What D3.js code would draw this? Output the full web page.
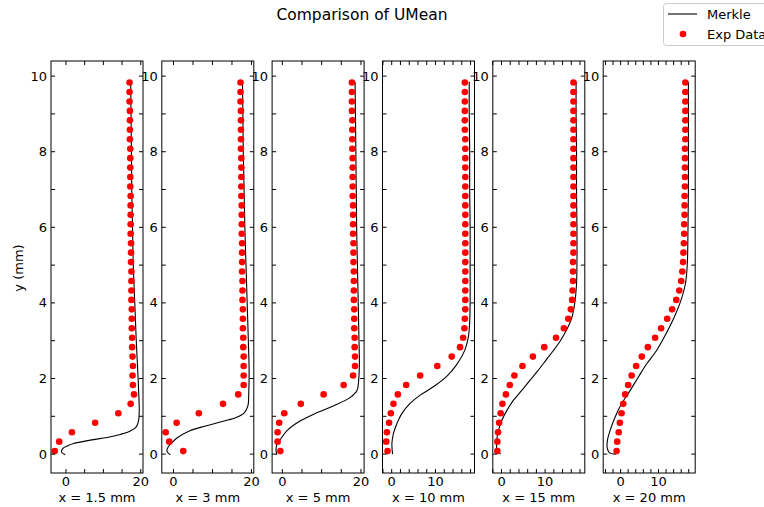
<!DOCTYPE html>
<html><head><meta charset="utf-8">
<script src="https://cdn.jsdelivr.net/npm/d3@7"></script>
<style>body{margin:0;background:#fff}svg{display:block;font-family:"DejaVu Sans",sans-serif}</style>
</head><body>
<script>
const panelTitles = ["x = 1.5 mm","x = 3 mm","x = 5 mm","x = 10 mm","x = 15 mm","x = 20 mm"];
const yExp = [0.08,0.33,0.58,0.83,1.08,1.33,1.58,1.83,2.08,2.33,2.58,2.83,3.08,3.33,3.58,3.83,4.08,4.33,4.58,4.83,5.08,5.33,5.58,5.83,6.08,6.33,6.58,6.83,7.08,7.33,7.58,7.83,8.08,8.33,8.58,8.83,9.08,9.33,9.58,9.83];
const exp1 = [-3.0,-1.8,1.6,7.8,14.0,17.3,18.2,17.9,17.8,17.9,17.8,17.7,17.7,17.6,17.6,17.6,17.5,17.5,17.5,17.5,17.4,17.4,17.4,17.3,17.3,17.3,17.3,17.3,17.2,17.2,17.2,17.2,17.2,17.1,17.1,17.1,17.1,17.0,17.0,17.0];
const exp2 = [2.5,-1.1,-2.0,0.8,6.5,12.7,16.6,18.0,18.0,18.0,18.0,17.9,17.9,17.8,17.8,17.8,17.7,17.7,17.7,17.6,17.6,17.6,17.6,17.5,17.5,17.5,17.5,17.4,17.4,17.4,17.4,17.4,17.3,17.3,17.3,17.3,17.3,17.2,17.2,17.2];
const exp3 = [-0.5,-1.2,-1.2,-0.8,0.5,4.7,10.5,15.6,18.0,18.5,18.5,18.4,18.4,18.3,18.3,18.3,18.2,18.2,18.2,18.2,18.1,18.1,18.1,18.0,18.0,18.0,18.0,17.9,17.9,17.9,17.9,17.9,17.8,17.8,17.8,17.8,17.7,17.7,17.7,17.7];
const exp4 = [-0.95,-1.25,-1.1,-0.6,-0.2,0.4,1.4,3.3,6.5,10.4,13.7,15.6,16.3,16.6,16.7,16.8,16.8,16.8,16.8,16.8,16.8,16.8,16.8,16.8,16.8,16.8,16.8,16.8,16.8,16.8,16.8,16.8,16.8,16.8,16.7,16.7,16.7,16.7,16.7,16.7];
const exp5 = [-0.95,-0.95,-0.8,-0.55,-0.2,0.2,1.0,1.9,2.95,4.8,7.2,9.8,12.5,14.3,15.3,15.9,16.2,16.3,16.4,16.4,16.4,16.5,16.5,16.5,16.5,16.5,16.5,16.5,16.5,16.5,16.5,16.5,16.5,16.5,16.5,16.5,16.5,16.5,16.5,16.5];
const exp6 = [-1.06,-0.9,-0.5,-0.2,0.25,0.7,1.2,2.0,2.9,4.1,5.6,7.2,9.1,10.7,12.3,13.6,14.7,15.5,16.0,16.3,16.5,16.6,16.7,16.8,16.8,16.9,16.9,16.9,17.0,17.0,17.0,17.0,17.0,17.1,17.1,17.1,17.1,17.1,17.1,17.1];

const merkleX1 = [-0.2,-1.2,-0.8,0.5,2.0,6.5,11.0,14.5,17.2,18.8,19.4,19.6,19.5,19.3,18.8,18.4,18.0,17.8,17.6,17.5,17.4,17.3];
const merkleY1 = [-0.02,0.06,0.15,0.22,0.28,0.37,0.44,0.52,0.61,0.72,0.88,1.15,1.5,2.0,3.0,4.0,5.0,6.0,7.0,8.0,9.0,9.85];
const merkleX2 = [-0.8,-1.7,-1.4,-0.4,0.8,4.2,8.5,12.7,16.1,18.2,19.1,19.3,19.4,19.2,18.9,18.6,18.3,18.1,17.9,17.8,17.7];
const merkleY2 = [-0.02,0.08,0.18,0.3,0.42,0.62,0.75,0.87,0.97,1.1,1.28,1.6,2.2,3.0,4.0,5.0,6.0,7.0,8.0,9.0,9.85];
const merkleX3 = [-1.4,-1.6,-1.4,-0.5,1.2,4.6,8.9,13.1,17.3,19.0,19.4,19.6,19.5,19.3,19.1,18.9,18.8,18.7,18.6,18.5];
const merkleY3 = [-0.02,0.1,0.25,0.39,0.62,0.88,1.1,1.28,1.5,1.68,1.94,2.4,3.0,4.0,5.0,6.0,7.0,8.0,9.0,9.85];
const merkleX4 = [0.2,0.05,0.4,1.2,2.3,4.2,6.5,9.5,12.5,14.8,16.7,17.5,17.8,17.9,17.9,17.9,17.8,17.8,17.7,17.7];
const merkleY4 = [0.0,0.28,0.55,0.81,1.07,1.34,1.56,1.78,2.05,2.36,2.75,3.1,3.5,4.0,5.0,6.0,7.0,8.0,9.0,9.85];
const merkleX5 = [-0.2,-1.0,-1.1,-0.7,0.05,1.2,2.7,4.6,6.5,8.3,10.3,11.9,13.5,15.0,16.1,16.8,17.2,17.3,17.3,17.2,17.2,17.1,17.1];
const merkleY5 = [0.0,0.09,0.36,0.62,0.89,1.15,1.42,1.68,1.95,2.2,2.5,2.74,3.0,3.3,3.6,4.0,4.5,5.0,6.0,7.0,8.0,9.0,9.85];
const merkleX6 = [-1.25,-3.0,-3.55,-3.5,-2.8,-1.5,0.25,2.5,4.7,6.9,9.5,11.0,13.6,15.7,17.1,17.6,17.8,17.9,17.9,17.9,17.9];
const merkleY6 = [0.0,0.04,0.17,0.35,0.62,0.97,1.33,1.68,2.04,2.39,2.74,3.0,3.5,4.0,4.5,5.0,6.0,7.0,8.0,9.0,9.85];

const xDomains = [[-4.0,20.6],[-3.0,20.6],[-2.6,20.8],[-2.1,18.9],[-2.0,19.1],[-4.6,19.7]];
const xTickStep = [5,5,5,2,2,2];
const xLabelStep = [20,20,20,10,10,10];
const yDomain = [-0.5,10.4];
const yTicks = [0,1,2,3,4,5,6,7,8,9,10];
const yLabels = [0,2,4,6,8,10];

const expSets = [exp1,exp2,exp3,exp4,exp5,exp6];
const merkleXs = [merkleX1,merkleX2,merkleX3,merkleX4,merkleX5,merkleX6];
const merkleYs = [merkleY1,merkleY2,merkleY3,merkleY4,merkleY5,merkleY6];

const W = 764, H = 507;
const svg = d3.select("body").append("svg").attr("width",W).attr("height",H);
const lefts = [51,161.8,272.1,382.5,492.8,603.2];
const pw = 92, plotTop = 61, plotBottom = 473;
const y = d3.scaleLinear().domain(yDomain).range([plotBottom, plotTop]);
const tickLen = 4;

lefts.forEach((lx, i) => {
  const x = d3.scaleLinear().domain(xDomains[i]).range([lx, lx+pw]);
  const g = svg.append("g");
  const [d0,d1] = xDomains[i];
  const st = xTickStep[i];
  const xt = d3.range(Math.ceil(d0/st)*st, d1+1e-9, st);
  const pts = merkleXs[i].map((v,k)=>[v, merkleYs[i][k]]);
  g.append("path").datum(pts)
    .attr("d", d3.line().x(d=>x(d[0])).y(d=>y(d[1])).curve(d3.curveCatmullRom.alpha(0.5)))
    .attr("fill","none").attr("stroke","#000").attr("stroke-width",1.1);
  g.selectAll("circle").data(expSets[i].map((v,k)=>[v,yExp[k]])).join("circle")
    .attr("cx",d=>x(d[0])).attr("cy",d=>y(d[1])).attr("r",3.3).attr("fill","#ff0000");
  g.append("rect").attr("x",lx).attr("y",plotTop).attr("width",pw).attr("height",plotBottom-plotTop)
    .attr("fill","none").attr("stroke","#000").attr("stroke-width",1);
  xt.forEach(v=>{
    const px = x(v);
    g.append("line").attr("x1",px).attr("x2",px).attr("y1",plotBottom).attr("y2",plotBottom-tickLen).attr("stroke","#000");
    g.append("line").attr("x1",px).attr("x2",px).attr("y1",plotTop).attr("y2",plotTop+tickLen).attr("stroke","#000");
    if (Math.abs(v % xLabelStep[i]) < 1e-9) {
      g.append("text").attr("x",px).attr("y",486).attr("text-anchor","middle")
        .attr("font-size",13).text(d3.format("d")(v));
    }
  });
  yTicks.forEach(v=>{
    const py = y(v);
    g.append("line").attr("x1",lx).attr("x2",lx+tickLen).attr("y1",py).attr("y2",py).attr("stroke","#000");
    g.append("line").attr("x1",lx+pw).attr("x2",lx+pw-tickLen).attr("y1",py).attr("y2",py).attr("stroke","#000");
  });
  yLabels.forEach(v=>{
    g.append("text").attr("x",lx-4).attr("y",y(v)).attr("dy","0.35em").attr("text-anchor","end")
      .attr("font-size",13).text(v);
  });
  g.append("text").attr("x",lx+pw/2).attr("y",502).attr("text-anchor","middle")
    .attr("font-size",13).text(panelTitles[i]);
});

svg.append("text").attr("transform","translate(23,268) rotate(-90)").attr("text-anchor","middle")
  .attr("font-size",13).text("y (mm)");
svg.append("text").attr("x",362).attr("y",20).attr("text-anchor","middle").attr("font-size",15.5)
  .text("Comparison of UMean");

const lg = svg.append("g");
lg.append("rect").attr("x",663.5).attr("y",3.5).attr("width",110).attr("height",42).attr("rx",3)
  .attr("fill","#fff").attr("stroke","#ccc");
lg.append("line").attr("x1",668).attr("x2",697).attr("y1",14).attr("y2",14).attr("stroke","#000").attr("stroke-width",1.1);
lg.append("circle").attr("cx",683).attr("cy",34).attr("r",3.3).attr("fill","#ff0000");
lg.append("text").attr("x",707).attr("y",14).attr("dy","0.35em").attr("font-size",13).text("Merkle");
lg.append("text").attr("x",707).attr("y",34).attr("dy","0.35em").attr("font-size",13).text("Exp Data");
</script>
</body></html>
